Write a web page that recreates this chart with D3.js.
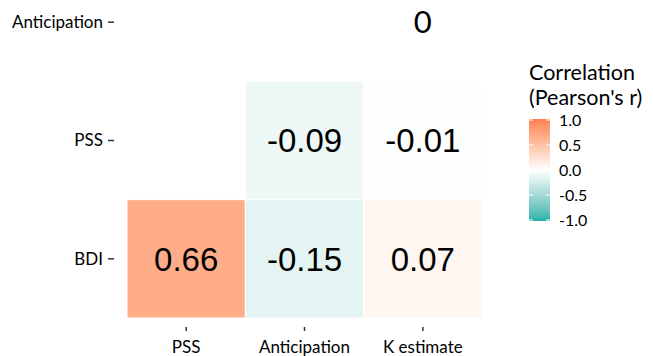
<!DOCTYPE html>
<html lang="en">
<head>
<meta charset="UTF-8">
<title>Correlation heatmap</title>
<script src="https://d3js.org/d3.v7.min.js"></script>
<style>
    body { margin: 0; background: #fff; }
    text { font-family: Lato, "Open Sans", sans-serif; fill: #000; }
    .cell-label { font-family: "Liberation Sans", Arial, sans-serif; }
</style>
</head>
<body>
<script>
    const width = 653, height = 356;

    // chart data
    const columns = ["PSS", "Anticipation", "K estimate"];
    const rows = ["Anticipation", "PSS", "BDI"];
    const cells = [
        { row: "Anticipation", col: "K estimate", r: 0 },
        { row: "PSS", col: "Anticipation", r: -0.09 },
        { row: "PSS", col: "K estimate", r: -0.01 },
        { row: "BDI", col: "PSS", r: 0.66 },
        { row: "BDI", col: "Anticipation", r: -0.15 },
        { row: "BDI", col: "K estimate", r: 0.07 }
    ];
    const legendTicks = [1.0, 0.5, 0.0, -0.5, -1.0];

    const fmt = (f, v) => d3.format(f)(v).replace("\u2212", "-");

    const svg = d3.select("body").append("svg")
        .attr("width", width)
        .attr("height", height);

    const x = d3.scaleBand().domain(columns).range([127, 482]);
    const y = d3.scaleBand().domain(rows).range([-37, 318]);

    const color = d3.scaleLinear()
        .domain([-1, 0, 1])
        .range(["#20B2AA", "#FFFFFF", "#FF7F50"])
        .interpolate(d3.interpolateLab);

    // tiles
    svg.append("g").selectAll("rect")
        .data(cells)
        .join("rect")
        .attr("x", d => x(d.col))
        .attr("y", d => y(d.row))
        .attr("width", x.bandwidth())
        .attr("height", y.bandwidth())
        .attr("fill", d => color(d.r))
        .attr("stroke", "#fff")
        .attr("stroke-width", 1);

    // values
    svg.append("g").selectAll("text")
        .data(cells)
        .join("text")
        .attr("class", d => d.r === 0 ? "" : "cell-label")
        .attr("x", d => x(d.col) + x.bandwidth() / 2)
        .attr("y", d => y(d.row) + y.bandwidth() / 2)
        .attr("dy", "0.36em")
        .attr("text-anchor", "middle")
        .style("font-size", d => d.r === 0 ? "31px" : "33px")
        .text(d => d.r === 0 ? "0" : fmt(".2f", d.r));

    // y axis
    const yAxis = svg.append("g");
    rows.forEach(r => {
        const cy = y(r) + y.bandwidth() / 2;
        yAxis.append("line")
            .attr("x1", 108).attr("x2", 114)
            .attr("y1", cy).attr("y2", cy)
            .attr("stroke", "#333").attr("stroke-width", 1.5);
        yAxis.append("text")
            .attr("x", 103).attr("y", cy)
            .attr("dy", "0.35em")
            .attr("text-anchor", "end")
            .style("font-size", "17px")
            .text(r);
    });

    // x axis
    const xAxis = svg.append("g");
    columns.forEach(c => {
        const cx = x(c) + x.bandwidth() / 2;
        xAxis.append("line")
            .attr("x1", cx).attr("x2", cx)
            .attr("y1", 327).attr("y2", 331)
            .attr("stroke", "#333").attr("stroke-width", 1.5);
        xAxis.append("text")
            .attr("x", cx).attr("y", 353)
            .attr("text-anchor", "middle")
            .style("font-size", "17px")
            .text(c);
    });

    // legend
    const legend = svg.append("g");
    legend.append("text").attr("x", 529).attr("y", 80)
        .style("font-size", "21.5px").text("Correlation");
    legend.append("text").attr("x", 529).attr("y", 105)
        .style("font-size", "21.5px").text("(Pearson's r)");

    const defs = svg.append("defs");
    const grad = defs.append("linearGradient")
        .attr("id", "corr-grad")
        .attr("x1", 0).attr("x2", 0).attr("y1", 1).attr("y2", 0);
    d3.range(0, 1.0001, 0.05).forEach(t => {
        grad.append("stop")
            .attr("offset", t)
            .attr("stop-color", color(-1 + 2 * t));
    });

    const ly = d3.scaleLinear().domain([-1, 1]).range([220, 120]);
    legend.append("rect")
        .attr("x", 529).attr("y", 119)
        .attr("width", 21).attr("height", 102)
        .attr("fill", "url(#corr-grad)");

    legendTicks.forEach(v => {
        legend.append("line")
            .attr("x1", 529).attr("x2", 533)
            .attr("y1", ly(v)).attr("y2", ly(v))
            .attr("stroke", "#fff").attr("stroke-width", 1);
        legend.append("line")
            .attr("x1", 546).attr("x2", 550)
            .attr("y1", ly(v)).attr("y2", ly(v))
            .attr("stroke", "#fff").attr("stroke-width", 1);
        legend.append("text")
            .attr("x", 559).attr("y", ly(v))
            .attr("dy", "0.36em")
            .style("font-size", "16px")
            .text(fmt(".1f", v));
    });
</script>
</body>
</html>
